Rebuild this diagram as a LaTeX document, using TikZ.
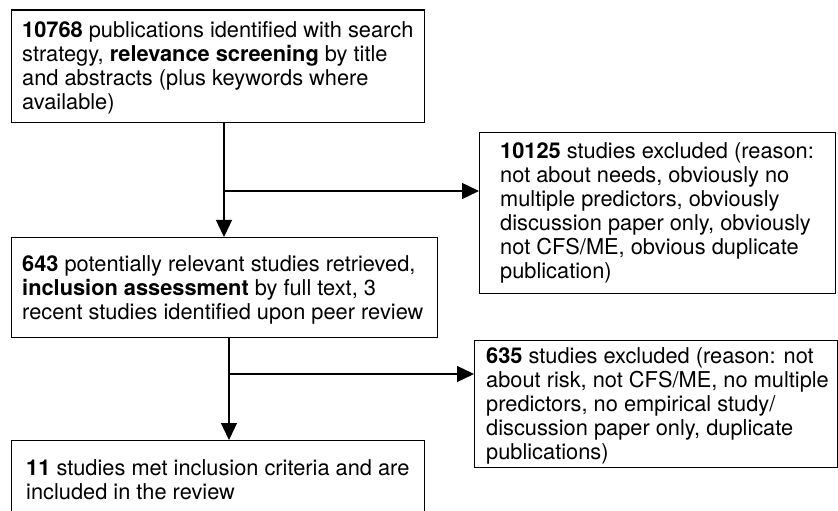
\documentclass[tikz,border=0pt]{standalone}
\usepackage{fontspec}
\setmainfont{TeX Gyre Heros}
\usetikzlibrary{arrows.meta,calc}
\begin{document}
\begin{tikzpicture}[x=1bp,y=-1bp,
  box/.style={draw=black, line width=1.1bp, inner sep=0pt, anchor=north west},
  txt/.style={align=left, inner sep=0pt, anchor=north west, font=\fontsize{21.8bp}{24bp}\selectfont},
  conn/.style={line width=1.3bp},
  arr/.style={conn, -{Triangle[length=17bp,width=16bp]}}]
\useasboundingbox (0,0) rectangle (838,511);
\clip (0,0) rectangle (838,511);
% boxes
\node[box, minimum width=413.5bp, minimum height=112.5bp] (b1) at (10.5,9.5) {};
\node[box, minimum width=426bp, minimum height=100bp] (b2) at (11,237) {};
\node[box, minimum width=356bp, minimum height=161bp] (b3) at (479,132) {};
\node[box, minimum width=363bp, minimum height=127bp] (b4) at (474,340) {};
\node[box, minimum width=413bp, minimum height=100bp] (b5) at (11,440) {};
% texts
\node[txt] (t1) at (22,21) {\textbf{10768} publications identified with search\\ strategy, \textbf{relevance screening} by title\\ and abstracts (plus keywords where\\ available)};
\node[txt] (t2) at (22,255) {\textbf{643} potentially relevant studies retrieved,\\ \textbf{inclusion assessment} by full text, 3\\ recent studies identified upon peer review};
\node[txt] (t3) at (500,142) {\textbf{10125} studies excluded (reason:\\ not about needs, obviously no\\ multiple predictors, obviously\\ discussion paper only, obviously\\ not CFS/ME, obvious duplicate\\ publication)};
\node[txt] (t4) at (486,347) {\textbf{635} studies excluded (reason: not\\ about risk, not CFS/ME, no multiple\\ predictors, no empirical study/\\ discussion paper only, duplicate\\ publications)};
\node[txt] (t5) at (26,459) {\textbf{11} studies met inclusion criteria and are\\ included in the review};
% connectors
\coordinate (j1) at (224,191);
\draw[conn] (b1.south -| j1) -- (j1);
\draw[arr] (j1) -- (b2.north -| j1);
\draw[arr] (j1) -- (b3.west |- j1);
\coordinate (j2) at (229,374);
\draw[conn] (b2.south -| j2) -- (j2);
\draw[arr] (j2) -- (b5.north -| j2);
\draw[arr] (j2) -- (b4.west |- j2);
\end{tikzpicture}
\end{document}
